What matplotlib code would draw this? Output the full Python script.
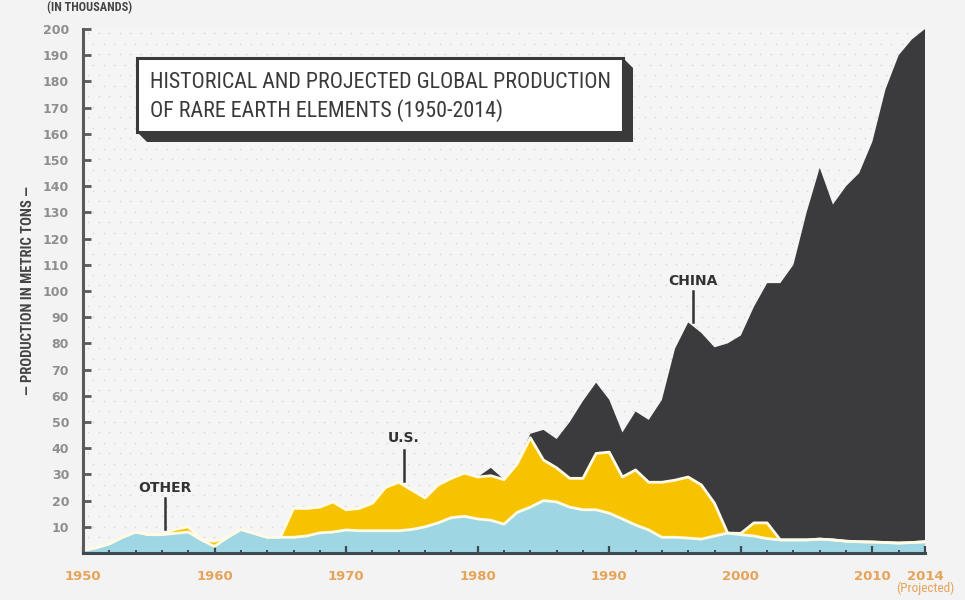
import matplotlib.pyplot as plt
import numpy as np
from matplotlib import font_manager as fm
from matplotlib.patches import Rectangle, Polygon

# data (thousands of metric tons), stacked layers
years = list(range(1950, 2015))
other = [1, 2, 3.5, 6, 8, 7, 7, 7.5, 8, 5,
         2.5, 6, 9, 7.5, 6, 6, 6, 6.5, 7.7, 8,
         8.8, 8.5, 8.5, 8.5, 8.5, 9, 10, 11.5, 13.5, 14,
         13, 12.5, 11, 15.5, 17.5, 20, 19.5, 17.5, 16.5, 16.5,
         15.2, 13, 10.7, 8.8, 6, 6, 5.7, 5.3, 6.5, 7.6,
         7, 6.5, 5.5, 5, 5, 5, 5.3, 5, 4.5, 4.3,
         4.2, 4, 3.8, 4, 4.3]
us = [0, 0, 0, 0, 0, 0, 0, 1.5, 2, 0,
      2, 0, 0, 0, 0, 0, 11, 10.5, 9.8, 11.5,
      7.7, 8.5, 10.5, 16.5, 18.5, 15, 11, 14.5, 15, 16.5,
      16, 17, 17, 18.5, 26.5, 15.5, 13, 11, 12, 21.5,
      23.3, 16, 21, 18.2, 21, 21.8, 23.3, 20.7, 12.5, 0,
      0.5, 5, 6, 0, 0, 0, 0, 0, 0, 0,
      0, 0, 0, 0, 0]
china = [0, 0, 0, 0, 0, 0, 0, 0, 0, 0,
         0, 0, 0, 0, 0, 0, 0, 0, 0, 0,
         0, 0, 0, 0, 0, 0, 0, 0, 0, 0,
         0, 3, 0, 0, 1.5, 11.5, 11, 21.5, 29.5, 27,
         20, 17, 22.3, 23.8, 31.4, 50.2, 59, 58, 59.5, 72.4,
         75.5, 82.5, 91.5, 98, 105, 125, 141.7, 128, 135.5, 140.7,
         152.8, 173, 186.2, 192, 195.7]

y_ticks = list(range(10, 210, 10))
x_ticks = [1950, 1960, 1970, 1980, 1990, 2000, 2010, 2014]

W, H = 965, 600
def fx(px):
    return px / W
def fy(py):
    return 1 - py / H

# pick a condensed face if one is installed
installed = {f.name for f in fm.fontManager.ttflist}
narrow_name = 'Liberation Sans'
for cand in ['Roboto Condensed', 'Liberation Sans Narrow', 'Open Sans Condensed',
             'Noto Sans Condensed', 'Noto Sans Display Condensed', 'DejaVu Sans Condensed']:
    if cand in installed:
        narrow_name = cand
        break
narrow = [narrow_name, 'DejaVu Sans']

fig = plt.figure(figsize=(9.65, 6), dpi=100, facecolor='#f3f3f3')
ax = fig.add_axes([fx(83), fy(553), (925 - 83) / W, (553 - 29) / H])
ax.set_facecolor('#f5f5f5')

# dotted background texture
gx, gy = np.meshgrid(np.arange(0.006, 1, 10.5 / 842), np.arange(0.01, 1, 10.5 / 524))
gx[::2] += 5.25 / 842
ax.scatter(gx.ravel(), gy.ravel(), s=1.6, color='#dadada', lw=0, transform=ax.transAxes, zorder=0)

ax.stackplot(years, other, us, china, colors=['#9fd6e3', '#f7c300', '#3b3a3c'], lw=0, zorder=1)
o = np.array(other)
ax.plot(years, o + np.array(us), color='#fffbe6', lw=2, zorder=2)
ax.plot(years, o, color='#fffbe6', lw=2, zorder=2)

ax.set_xlim(1950, 2014)
ax.set_ylim(0, 200)
ax.set_yticks(y_ticks)
ax.set_yticklabels([str(v) for v in y_ticks])
ax.set_xticks(x_ticks)
ax.set_xticklabels([str(v) for v in x_ticks])
ax.set_xticks(list(range(1950, 2015, 2)), minor=True)

for s in ['top', 'right']:
    ax.spines[s].set_visible(False)
ax.spines['left'].set_color('#5a5a5a')
ax.spines['left'].set_linewidth(2.2)
ax.spines['bottom'].set_color('#3e4850')
ax.spines['bottom'].set_linewidth(2.2)
ax.spines['left'].set_zorder(5)
ax.spines['bottom'].set_zorder(5)

ax.tick_params(axis='y', direction='in', length=6, width=2, color='#5a5a5a', pad=10,
               labelsize=9, labelcolor='#8e8e8e')
ax.tick_params(axis='x', which='major', direction='in', length=5, width=1.6, color='#3e4850',
               pad=12, labelsize=9.5, labelcolor='#e6a35a')
ax.tick_params(axis='x', which='minor', direction='in', length=2.5, width=1.4, color='#3e4850')
for lab in ax.get_yticklabels() + ax.get_xticklabels():
    lab.set_fontweight('bold')

ax.text(2014, -0.068, '(Projected)', transform=ax.get_xaxis_transform(), ha='center', va='center',
        fontsize=9.5, color='#e6a35a', family=narrow)

# series labels with leader lines
for txt, x, ytxt, y0, y1 in [('OTHER', 1956.2, 25, 9, 21), ('U.S.', 1974.4, 44, 27.5, 39.5),
                             ('CHINA', 1996.35, 104, 88, 100)]:
    ax.plot([x, x], [y0, y1], color='#333333', lw=1.8, zorder=4)
    ax.text(x, ytxt, txt, ha='center', va='center', fontsize=10, fontweight='bold', color='#333333', zorder=4)

# title box
shadow = Polygon([(fx(137), fy(132)), (fx(147), fy(142)), (fx(633), fy(142)), (fx(633), fy(68)), (fx(623), fy(58))],
                 closed=True, transform=fig.transFigure, facecolor='#3a3a3a', edgecolor='none', zorder=6)
fig.add_artist(shadow)
box = Rectangle((fx(137), fy(132)), (623 - 137) / W, (132 - 58) / H, transform=fig.transFigure,
                facecolor='white', edgecolor='#3a3a3a', lw=2.2, zorder=7)
fig.add_artist(box)
t1 = fig.text(fx(150), fy(82), 'HISTORICAL AND PROJECTED GLOBAL PRODUCTION', fontsize=18, color='#3a3a3a',
              va='center', ha='left', family=narrow, zorder=8)
t2 = fig.text(fx(150), fy(111), 'OF RARE EARTH ELEMENTS (1950-2014)', fontsize=18, color='#3a3a3a',
              va='center', ha='left', family=narrow, zorder=8)

t3 = fig.text(fx(47), fy(8), '(IN THOUSANDS)', fontsize=8.5, fontweight='bold', color='#444444',
              va='center', ha='left', family=narrow)
t4 = fig.text(fx(28), fy(291), '\u2014 PRODUCTION IN METRIC TONS \u2014', fontsize=8.5, fontweight='bold',
              color='#444444', va='center', ha='center', rotation=90, family=narrow)

# scale the fonts so each text spans the length it has in the original
renderer = fig.canvas.get_renderer()
w = t1.get_window_extent(renderer).width
size = 18 * 462 / w
t1.set_fontsize(size)
t2.set_fontsize(size)
w3 = t3.get_window_extent(renderer).width
t3.set_fontsize(8.5 * 84 / w3)
h4 = t4.get_window_extent(renderer).height
t4.set_fontsize(min(11, 8.5 * 206 / h4))

fig.savefig('out.png', dpi=100, facecolor=fig.get_facecolor())
